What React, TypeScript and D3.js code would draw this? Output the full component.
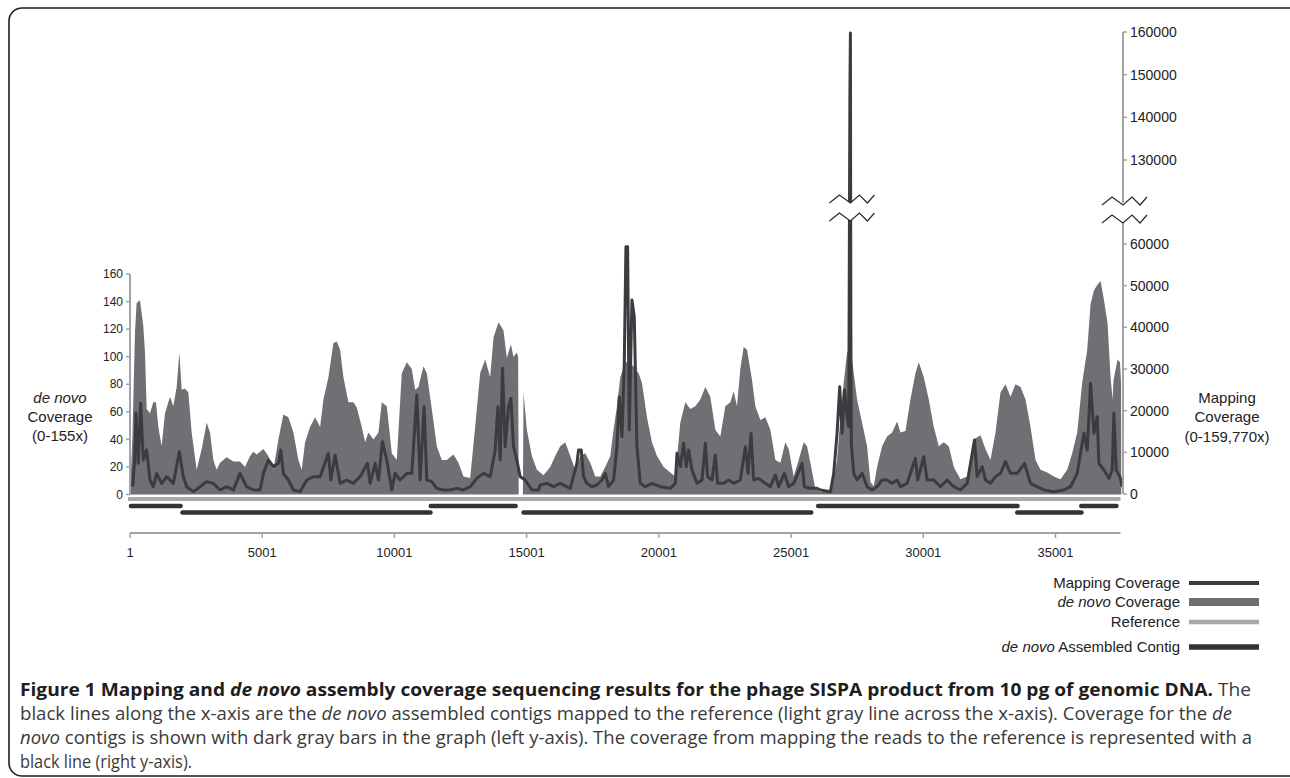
import React from 'react';
import * as d3 from 'd3';

// ---------- data ----------
const genomeLength = 37460;
const xTicks = [1, 5001, 10001, 15001, 20001, 25001, 30001, 35001];
const leftTicks = [0, 20, 40, 60, 80, 100, 120, 140, 160];
const rightLowTicks = [0, 10000, 20000, 30000, 40000, 50000, 60000];
const rightHighTicks = [130000, 140000, 150000, 160000];

// de novo coverage (left axis)
const denovoPos = [1, 90, 190, 252, 378, 505, 568, 631, 757, 883, 984, 1072, 1198, 1324, 1514, 1640, 1766, 1867, 1955, 2081, 2207, 2333, 2522, 2712, 2901, 3027, 3153, 3279, 3406, 3658, 3910, 4162, 4351, 4541, 4667, 4793, 4919, 5045, 5234, 5424, 5613, 5802, 5991, 6180, 6369, 6496, 6622, 6811, 7000, 7190, 7316, 7505, 7694, 7820, 7946, 8072, 8262, 8451, 8577, 8766, 8892, 9018, 9208, 9397, 9523, 9712, 9901, 10090, 10280, 10469, 10658, 10784, 10910, 11099, 11225, 11414, 11604, 11793, 11982, 12234, 12423, 12612, 12865, 13054, 13243, 13432, 13622, 13748, 13937, 14126, 14252, 14404, 14504, 14630, 14680, 14700, 14860, 14883, 15009, 15199, 15388, 15640, 15893, 16082, 16271, 16460, 16650, 16839, 17028, 17217, 17406, 17596, 17785, 17974, 18163, 18289, 18416, 18542, 18731, 18920, 19109, 19235, 19361, 19551, 19740, 19929, 20181, 20434, 20623, 20812, 21001, 21190, 21380, 21569, 21758, 21947, 22136, 22326, 22515, 22704, 22830, 22956, 23082, 23208, 23335, 23524, 23650, 23839, 24028, 24218, 24407, 24596, 24785, 24911, 25100, 25289, 25478, 25604, 25731, 25920, 26110, 26488, 26614, 26740, 26867, 26993, 27119, 27245, 27371, 27497, 27686, 27876, 28002, 28128, 28254, 28443, 28632, 28822, 29011, 29137, 29326, 29515, 29704, 29830, 30019, 30209, 30398, 30587, 30776, 30965, 31155, 31407, 31660, 31912, 32164, 32353, 32542, 32732, 32921, 33110, 33299, 33488, 33678, 33867, 34056, 34245, 34434, 34687, 34939, 35191, 35444, 35633, 35822, 36011, 36201, 36327, 36453, 36579, 36705, 36818, 36970, 37083, 37159, 37197, 37348, 37440, 37480, 37490];
const denovoVal = [2, 40, 118, 139, 141, 122, 103, 62, 59, 67, 67, 49, 35, 59, 71, 64, 78, 103, 76, 77, 74, 45, 18, 33, 52, 45, 25, 18, 23, 27, 24, 24, 20, 28, 31, 29, 31, 33, 28, 18, 40, 58, 56, 45, 25, 18, 38, 49, 56, 49, 69, 85, 110, 111, 105, 85, 67, 67, 63, 49, 38, 45, 40, 45, 67, 64, 30, 25, 88, 96, 91, 76, 78, 93, 88, 62, 35, 25, 25, 29, 23, 13, 12, 49, 88, 98, 85, 114, 125, 119, 99, 109, 100, 103, 100, 0, 0, 74, 47, 28, 18, 14, 20, 28, 35, 38, 28, 18, 28, 30, 23, 13, 13, 20, 28, 47, 64, 85, 96, 96, 91, 88, 81, 56, 38, 28, 20, 16, 13, 52, 67, 62, 64, 69, 78, 71, 47, 42, 64, 67, 75, 64, 91, 107, 105, 83, 64, 54, 56, 47, 25, 23, 38, 33, 13, 25, 38, 35, 23, 4, 2, 2, 11, 25, 56, 81, 103, 107, 88, 69, 52, 35, 9, 6, 20, 35, 42, 45, 53, 45, 46, 69, 88, 96, 85, 69, 49, 35, 38, 35, 20, 11, 13, 40, 43, 33, 25, 45, 74, 80, 71, 80, 78, 69, 49, 25, 18, 16, 13, 11, 18, 30, 45, 81, 105, 138, 148, 152, 155, 143, 124, 85, 69, 83, 98, 96, 81, 0];

// mapping coverage (right axis, broken)
const mapPos = [101, 177, 227, 315, 404, 505, 631, 757, 883, 1009, 1198, 1388, 1640, 1867, 2018, 2144, 2396, 2649, 2901, 3153, 3406, 3658, 3910, 4162, 4414, 4667, 4919, 5045, 5234, 5424, 5613, 5702, 5802, 5991, 6180, 6433, 6685, 6937, 7190, 7505, 7594, 7758, 7946, 8198, 8451, 8703, 8980, 9081, 9271, 9397, 9548, 9712, 9901, 10027, 10217, 10469, 10658, 10847, 10973, 11124, 11225, 11414, 11604, 11856, 12108, 12360, 12612, 12865, 13117, 13369, 13622, 13811, 13912, 14000, 14089, 14190, 14316, 14404, 14504, 14630, 14756, 14945, 15198, 15450, 15514, 15766, 16019, 16271, 16650, 16902, 16965, 17066, 17154, 17280, 17469, 17659, 17848, 17974, 18100, 18289, 18416, 18504, 18605, 18693, 18756, 18819, 18882, 18983, 19071, 19172, 19298, 19488, 19740, 20055, 20434, 20623, 20686, 20812, 20938, 21039, 21127, 21253, 21443, 21632, 21758, 21846, 22010, 22136, 22225, 22452, 22641, 22830, 23082, 23272, 23373, 23486, 23587, 23776, 24028, 24218, 24407, 24533, 24747, 24911, 25100, 25415, 25503, 25731, 25983, 26110, 26488, 26614, 26740, 26841, 26930, 27018, 27119, 27182, 27225, 27245, 27262, 27280, 27371, 27497, 27686, 27876, 28065, 28254, 28443, 28632, 28822, 29011, 29137, 29389, 29704, 29792, 30019, 30145, 30398, 30650, 30902, 31155, 31407, 31660, 31937, 32038, 32227, 32353, 32542, 32732, 32921, 33110, 33299, 33552, 33829, 34056, 34308, 34560, 34939, 35318, 35570, 35822, 36075, 36201, 36327, 36453, 36579, 36642, 36831, 37020, 37146, 37209, 37297, 37436, 37524];
const mapVal = [1750, 8160, 19370, 7360, 21760, 8160, 10560, 3360, 1750, 4960, 2560, 4160, 2560, 10160, 4160, 1750, 560, 1750, 2960, 2560, 960, 1750, 960, 4960, 1750, 960, 960, 4960, 8160, 6560, 7360, 10560, 4960, 3360, 960, 560, 3360, 4160, 4160, 9760, 3360, 9360, 2560, 3360, 2560, 4160, 7360, 2560, 7360, 3360, 12560, 8160, 960, 4960, 3360, 4960, 4960, 23760, 3360, 20960, 3360, 2960, 1360, 960, 960, 1360, 960, 1750, 3760, 4960, 4160, 10560, 20960, 8160, 30160, 11360, 20960, 22960, 11360, 8160, 4160, 3360, 960, 960, 2160, 2560, 1750, 2560, 1360, 7360, 10560, 10560, 4160, 2560, 1750, 2160, 3360, 4960, 1750, 3360, 11360, 23360, 13760, 31360, 59360, 59360, 15360, 46560, 42560, 11360, 2560, 1750, 2560, 1750, 1360, 2560, 9760, 6560, 12160, 6560, 10560, 5760, 2560, 3360, 12160, 4160, 3360, 9360, 2560, 2560, 3360, 2560, 3360, 11360, 4960, 14560, 3360, 3760, 2560, 1750, 4560, 1750, 4960, 1750, 2560, 7360, 1750, 1360, 1360, 960, 560, 4960, 14560, 25760, 14560, 24960, 18560, 16160, 145000, 159770, 40000, 12000, 4960, 3360, 4960, 1750, 960, 1750, 3360, 3360, 2560, 3360, 1750, 2560, 8560, 3360, 8960, 3360, 3360, 1750, 3360, 1750, 960, 2560, 12960, 4160, 6560, 3360, 2560, 4160, 4960, 7760, 4960, 4960, 7360, 2560, 1750, 960, 560, 960, 1750, 4960, 14560, 10560, 26560, 14560, 18560, 7360, 5760, 3760, 5760, 19360, 5760, 4160, 1750];

// de novo assembled contigs
const contigStart = [1, 1950, 11340, 14850, 25990, 33520, 35940];
const contigEnd = [1950, 11400, 14620, 25800, 33600, 36020, 37340];
const contigRow = [0, 1, 0, 1, 0, 1, 0];

const legendLabels = ['Mapping Coverage', 'de novo Coverage', 'Reference', 'de novo Assembled Contig'];

// ---------- styling ----------
const C_AREA = '#6f6f74';
const C_MAP = '#3c3c40';
const C_REF = '#a9a9ac';
const C_CONTIG = '#333335';
const C_AXIS = '#a3a3a6';
const FONT = '"Liberation Sans", Arial, Helvetica, sans-serif';
const CAP_FONT = '"Open Sans", "Liberation Sans", sans-serif';

const zzDx = [-21, -11, 0, 9, 17, 24];
const zzDy = [8, 0, 8, 0, 8, 0];

function Zigzag({ cx, top, gap }: { cx: number; top: number; gap: number }) {
  const upper = zzDx.map((dx, i) => [cx + dx, top + zzDy[i]] as [number, number]);
  const lower = zzDx.map((dx, i) => [cx + dx, top + gap + zzDy[i]] as [number, number]);
  const poly = [...upper, ...lower.slice().reverse()];
  const ln = d3.line();
  return (
    <g>
      <path d={ln(poly) + 'Z'} fill="#fff" stroke="none" />
      <path d={ln(upper) || ''} fill="none" stroke="#2a2a2a" strokeWidth={1.2} />
      <path d={ln(lower) || ''} fill="none" stroke="#2a2a2a" strokeWidth={1.2} />
    </g>
  );
}

export default function App() {
  const W = 1290, H = 778;
  const x = d3.scaleLinear().domain([1, 35001]).range([130, 1055.5]);
  const yL = d3.scaleLinear().domain([0, 160]).range([494.5, 274]);
  const yLow = d3.scaleLinear().domain([0, 60000]).range([494, 244]);
  const yHigh = d3.scaleLinear().domain([130000, 160000]).range([160, 32]);
  const brkLo = 65000, brkHi = 120000;
  const yM = (v: number) =>
    v <= brkLo ? yLow(v) : v >= brkHi ? yHigh(v)
      : yLow(brkLo) + ((v - brkLo) / (brkHi - brkLo)) * (yHigh(brkHi) - yLow(brkLo));

  const denovo = denovoPos.map((p, i) => [p, denovoVal[i]] as [number, number]);
  const mapping = mapPos.map((p, i) => [p, mapVal[i]] as [number, number]);
  const area = d3.area<[number, number]>().x(d => x(d[0])).y0(yL(0)).y1(d => yL(d[1]));
  const line = d3.line<[number, number]>().x(d => x(d[0])).y(d => yM(d[1]));

  const axL = 130, axR = 1123;
  const refY = 499, rowY = [506, 512.5];
  const xAxY = 533;
  const spikeX = x(27245);
  const zzTop = 196, zzGap = 18;

  const legX = 1180, legX1 = 1189, legX2 = 1259;
  const legY = [583, 602, 622, 647];
  const legW = [3.8, 8, 4.5, 5.5];
  const legC = [C_MAP, C_AREA, C_REF, C_CONTIG];

  return (
    <svg width={W} height={H} style={{ position: 'absolute', left: 0, top: 0, background: '#fff' }}
      fontFamily={FONT}>
      <rect x={0} y={0} width={W} height={H} fill="#fff" />
      {/* figure frame */}
      <rect x={9} y={8} width={1295} height={768} rx={13} ry={13} fill="none" stroke="#1e1e1e" strokeWidth={1.6} />

      {/* de novo coverage area */}
      <path d={area(denovo) || ''} fill={C_AREA} />
      {/* mapping coverage line */}
      <path d={line(mapping) || ''} fill="none" stroke={C_MAP} strokeWidth={3} strokeLinejoin="round" />

      {/* reference */}
      <line x1={x(1) - 2} x2={x(genomeLength)} y1={refY} y2={refY} stroke={C_REF} strokeWidth={4} />
      {/* contigs */}
      {contigStart.map((s, i) => (
        <line key={i} x1={x(s) + 1} x2={x(contigEnd[i]) - 1} y1={rowY[contigRow[i]]} y2={rowY[contigRow[i]]}
          stroke={C_CONTIG} strokeWidth={4.6} strokeLinecap="round" />
      ))}

      {/* left axis */}
      <line x1={axL} x2={axL} y1={yL(0)} y2={yL(160)} stroke={C_AXIS} strokeWidth={2} />
      {leftTicks.map(t => (
        <g key={t}>
          <line x1={axL - 4} x2={axL} y1={yL(t)} y2={yL(t)} stroke={C_AXIS} strokeWidth={1.5} />
          <text x={123} y={yL(t)} dy="0.35em" textAnchor="end" fontSize={12} fill="#222">{t}</text>
        </g>
      ))}
      <text x={60} textAnchor="middle" fontSize={15} fill="#222">
        <tspan x={60} y={403} fontStyle="italic">de novo</tspan>
        <tspan x={60} y={422}>Coverage</tspan>
        <tspan x={60} y={441}>(0-155x)</tspan>
      </text>

      {/* right axis */}
      <line x1={axR} x2={axR} y1={yLow(0)} y2={yLow(65000)} stroke={C_AXIS} strokeWidth={2} />
      <line x1={axR} x2={axR} y1={yHigh(120000)} y2={yHigh(160000)} stroke={C_AXIS} strokeWidth={2} />
      {[...rightLowTicks.map(t => [t, yLow(t)]), ...rightHighTicks.map(t => [t, yHigh(t)])].map(([t, yy]) => (
        <g key={t}>
          <line x1={axR} x2={axR + 4} y1={yy} y2={yy} stroke={C_AXIS} strokeWidth={1.5} />
          <text x={1130} y={yy} dy="0.35em" fontSize={14} fill="#222">{t}</text>
        </g>
      ))}
      <text textAnchor="middle" fontSize={15} fill="#222">
        <tspan x={1227} y={403}>Mapping</tspan>
        <tspan x={1227} y={422}>Coverage</tspan>
        <tspan x={1227} y={442}>(0-159,770x)</tspan>
      </text>

      {/* axis breaks */}
      <Zigzag cx={spikeX} top={zzTop - 1} gap={zzGap} />
      <Zigzag cx={axR} top={zzTop + 1} gap={zzGap} />

      {/* x axis */}
      <line x1={x(1)} x2={x(genomeLength)} y1={xAxY} y2={xAxY} stroke={C_AXIS} strokeWidth={2} />
      {xTicks.map(t => (
        <g key={t}>
          <line x1={x(t)} x2={x(t)} y1={xAxY} y2={xAxY + 5} stroke={C_AXIS} strokeWidth={1.5} />
          <text x={x(t)} y={552} dy="0.35em" textAnchor="middle" fontSize={13} fill="#222">{t}</text>
        </g>
      ))}

      {/* legend */}
      {legendLabels.map((lab, i) => (
        <g key={lab}>
          <text x={legX} y={legY[i]} dy="0.35em" textAnchor="end" fontSize={15} fill="#222">
            {lab.startsWith('de novo') ? (
              <><tspan fontStyle="italic">de novo</tspan>{lab.slice(7)}</>
            ) : lab}
          </text>
          <line x1={legX1} x2={legX2} y1={legY[i]} y2={legY[i]} stroke={legC[i]} strokeWidth={legW[i]} />
        </g>
      ))}

      {/* caption */}
      <g fontFamily={CAP_FONT} fontSize={18.5} fill="#3a3a3a">
        <text x={20} y={696} textLength={1231} lengthAdjust="spacingAndGlyphs">
          <tspan fontWeight="bold" fill="#1e1e1e">Figure 1 Mapping and </tspan>
          <tspan fontWeight="bold" fontStyle="italic" fill="#1e1e1e">de novo</tspan>
          <tspan fontWeight="bold" fill="#1e1e1e"> assembly coverage sequencing results for the phage SISPA product from 10 pg of genomic DNA.</tspan>
          <tspan> The</tspan>
        </text>
        <text x={20} y={720} textLength={1212} lengthAdjust="spacingAndGlyphs">
          <tspan>black lines along the x-axis are the </tspan>
          <tspan fontStyle="italic">de novo</tspan>
          <tspan> assembled contigs mapped to the reference (light gray line across the x-axis). Coverage for the </tspan>
          <tspan fontStyle="italic">de</tspan>
        </text>
        <text x={20} y={744} textLength={1232} lengthAdjust="spacingAndGlyphs">
          <tspan fontStyle="italic">novo</tspan>
          <tspan> contigs is shown with dark gray bars in the graph (left y-axis). The coverage from mapping the reads to the reference is represented with a</tspan>
        </text>
        <text x={20} y={768} textLength={172} lengthAdjust="spacingAndGlyphs">black line (right y-axis).</text>
      </g>
    </svg>
  );
}
